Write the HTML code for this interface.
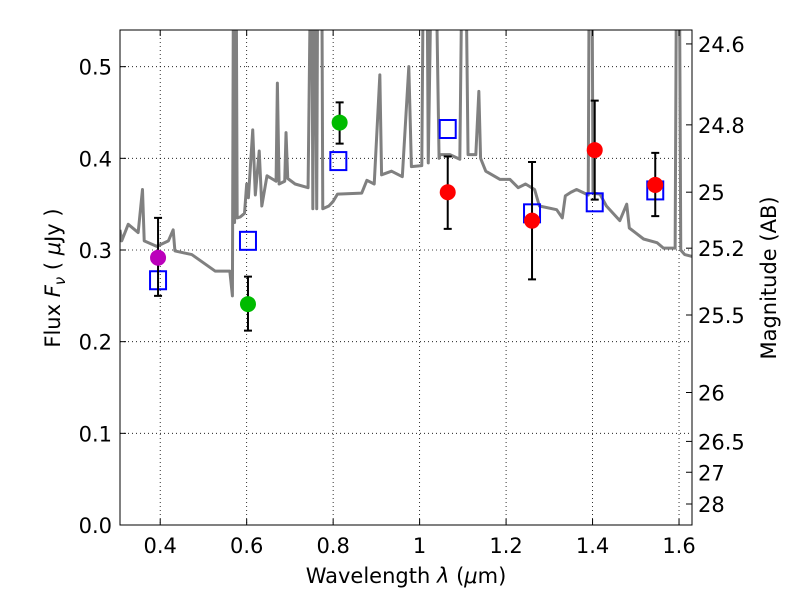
<!DOCTYPE html>
<html><head><meta charset="utf-8"><style>
body{margin:0;background:#fff}
svg text{font-family:"DejaVu Sans","Liberation Sans",sans-serif;fill:#000}
</style></head><body>
<svg id="chart" width="800" height="600" viewBox="0 0 800 600" xmlns="http://www.w3.org/2000/svg">
<defs><clipPath id="pc"><rect x="120" y="30" width="572" height="495"/></clipPath></defs>
<g id="grid"></g>
<g id="series" clip-path="url(#pc)"></g>
<rect x="120" y="30" width="572" height="495" fill="none" stroke="#000" stroke-width="1"/>
<g id="axes"></g>
<text x="406" y="583" font-size="21" text-anchor="middle">Wavelength  <tspan font-style="italic">λ</tspan> (<tspan font-style="italic">μ</tspan>m)</text>
<text transform="translate(60,278) rotate(-90)" font-size="21" text-anchor="middle">Flux  <tspan font-style="italic">F</tspan><tspan font-style="italic" font-size="15" dy="5">ν</tspan><tspan dy="-5">  ( <tspan font-style="italic">μ</tspan>Jy )</tspan></text>
<text transform="translate(776,278) rotate(-90)" font-size="21" text-anchor="middle">Magnitude (AB)</text>
</svg>
<script>
const xTicks=[0.4,0.6,0.8,1,1.2,1.4,1.6];
const xTickLabels=["0.4","0.6","0.8","1","1.2","1.4","1.6"];
const yTicks=[0,0.1,0.2,0.3,0.4,0.5];
const yTickLabels=["0.0","0.1","0.2","0.3","0.4","0.5"];
const magTicks=[24.6,24.8,25,25.2,25.5,26,26.5,27,28];
const magTickLabels=["24.6","24.8","25","25.2","25.5","26","26.5","27","28"];
const specW=[0.307,0.311,0.326,0.349,0.359,0.363,0.392,0.419,0.430,0.434,0.473,0.527,0.561,0.567,0.570,0.572,0.575,0.578,0.585,0.595,0.600,0.604,0.614,0.620,0.629,0.635,0.647,0.668,0.671,0.675,0.688,0.691,0.695,0.712,0.742,0.750,0.753,0.757,0.762,0.765,0.773,0.776,0.790,0.800,0.810,0.866,0.878,0.895,0.908,0.912,0.935,0.960,0.975,0.981,1.005,1.010,1.016,1.020,1.030,1.035,1.045,1.047,1.070,1.093,1.100,1.105,1.112,1.130,1.137,1.141,1.153,1.186,1.209,1.228,1.245,1.266,1.277,1.317,1.330,1.337,1.350,1.363,1.390,1.393,1.398,1.401,1.417,1.432,1.463,1.479,1.485,1.518,1.549,1.564,1.591,1.595,1.600,1.604,1.613,1.630];
const specF=[0.322,0.31,0.328,0.319,0.366,0.31,0.304,0.31,0.322,0.299,0.295,0.277,0.277,0.25,0.7,0.33,0.7,0.335,0.336,0.34,0.372,0.357,0.431,0.36,0.408,0.348,0.381,0.375,0.482,0.372,0.375,0.428,0.378,0.372,0.368,0.7,0.345,0.7,0.345,0.7,0.7,0.345,0.348,0.353,0.361,0.362,0.376,0.372,0.491,0.382,0.386,0.38,0.5,0.391,0.392,0.7,0.7,0.395,0.7,0.7,0.4,0.404,0.404,0.399,0.7,0.7,0.404,0.404,0.473,0.4,0.386,0.377,0.377,0.368,0.372,0.366,0.348,0.344,0.335,0.359,0.363,0.366,0.36,0.7,0.7,0.362,0.361,0.348,0.332,0.35,0.324,0.312,0.308,0.302,0.302,0.7,0.7,0.3,0.295,0.293];
const sqW=[0.395,0.603,0.812,1.065,1.26,1.405,1.545];
const sqF=[0.267,0.31,0.397,0.432,0.34,0.352,0.365];
const ptW=[0.395,0.603,0.815,1.065,1.26,1.405,1.545];
const ptF=[0.2916,0.241,0.439,0.363,0.332,0.409,0.371];
const ptLo=[0.25,0.212,0.416,0.323,0.268,0.355,0.337];
const ptHi=[0.335,0.271,0.461,0.402,0.396,0.463,0.406];
const ptColor=["#bb00bb","#00bb00","#00bb00","#ff0000","#ff0000","#ff0000","#ff0000"];

const X0=120,X1=692,Y0=525,Y1=30,xmin=0.307,xmax=1.63,ymin=0,ymax=0.54;
const sx=w=>X0+(w-xmin)/(xmax-xmin)*(X1-X0);
const sy=f=>Y0-(f-ymin)/(ymax-ymin)*(Y0-Y1);
const NS="http://www.w3.org/2000/svg";
function mk(parent,tag,attrs){const e=document.createElementNS(NS,tag);for(const k in attrs)e.setAttribute(k,attrs[k]);parent.appendChild(e);return e;}
const grid=document.getElementById('grid'),ser=document.getElementById('series'),ax=document.getElementById('axes');
xTicks.forEach((t,i)=>{
  const g=mk(grid,'line',{x1:sx(t),x2:sx(t),y1:Y1,y2:Y0,stroke:'#000','stroke-width':0.8,'stroke-dasharray':'1,3'});
  
  
  const tk=mk(ax,'path',{d:`M${sx(t)},${Y0}v-6M${sx(t)},${Y1}v6`,stroke:'#000'});
  
  
  const tx=mk(ax,'text',{x:sx(t),y:553,'font-size':21,'text-anchor':'middle'});tx.textContent=xTickLabels[i];
  
  
});
yTicks.forEach((t,i)=>{
  if(t>0){const g=mk(grid,'line',{x1:X0,x2:X1,y1:sy(t),y2:sy(t),stroke:'#000','stroke-width':0.8,'stroke-dasharray':'1,3'});
  
  }
  const tk=mk(ax,'path',{d:`M${X0},${sy(t)}h6`,stroke:'#000'});
  
  
  const tx=mk(ax,'text',{x:112,y:sy(t)+8,'font-size':21,'text-anchor':'end'});tx.textContent=yTickLabels[i];
  
  
});
magTicks.forEach((m,i)=>{
  const f=Math.pow(10,(23.9-m)/2.5);const y=sy(f);
  const tk=mk(ax,'path',{d:`M${X1},${y}h-6`,stroke:'#000'});
  
  
  const tx=mk(ax,'text',{x:698,y:y+8,'font-size':21});tx.textContent=magTickLabels[i];
  
  
});
const sp=mk(ser,'polyline',{points:specW.map((w,i)=>sx(w)+','+sy(specF[i])).join(' '),fill:'none',stroke:'#808080','stroke-width':3,'stroke-linejoin':'round'});


sqW.forEach((w,i)=>{
  const r=mk(ser,'rect',{x:sx(w)-8,y:sy(sqF[i])-9,width:16,height:18,fill:'none',stroke:'#0000ff','stroke-width':2});
  
  
});
ptW.forEach((w,i)=>{
  const x=sx(w);
  const e=mk(ser,'path',{d:`M${x},${sy(ptLo[i])}V${sy(ptHi[i])}M${x-4},${sy(ptLo[i])}h8M${x-4},${sy(ptHi[i])}h8`,stroke:'#000','stroke-width':2});
  
  
  const c=mk(ser,'circle',{cx:x,cy:sy(ptF[i]),r:8,fill:ptColor[i]});
  
  
});
</script>
</body></html>
